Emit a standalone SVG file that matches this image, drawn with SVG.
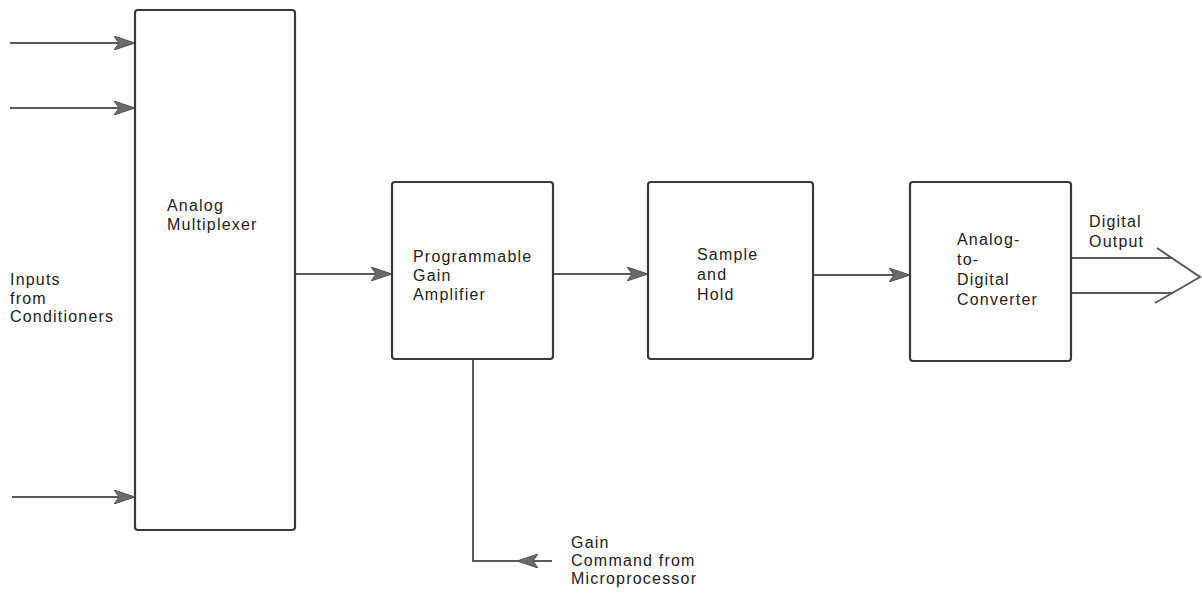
<svg xmlns="http://www.w3.org/2000/svg" width="1202" height="594" viewBox="0 0 1202 594">
<defs>
<marker id="ah" markerWidth="22" markerHeight="14" refX="21" refY="7" orient="auto" markerUnits="userSpaceOnUse">
<path d="M0,0 L21,7 L0,14 L5,7 Z" fill="#6a6a6a" stroke="#555" stroke-width="1"/>
</marker>
<style>
.box{fill:none;stroke:#3a3a3a;stroke-width:2.2}
.ln{fill:none;stroke:#5a5a5a;stroke-width:2}
text{font-family:"Liberation Sans",Arial,sans-serif;font-size:16px;letter-spacing:1.2px;fill:#222}
</style>
</defs>
<rect width="1202" height="594" fill="#fff"/>
<g id="connectors">
<line class="ln" x1="10" y1="43" x2="135" y2="43" marker-end="url(#ah)"/>
<line class="ln" x1="10" y1="108" x2="135" y2="108" marker-end="url(#ah)"/>
<line class="ln" x1="12" y1="497" x2="135" y2="497" marker-end="url(#ah)"/>
<line class="ln" x1="295" y1="274" x2="392" y2="274" marker-end="url(#ah)"/>
<line class="ln" x1="553" y1="274" x2="648" y2="274" marker-end="url(#ah)"/>
<line class="ln" x1="813" y1="275" x2="910" y2="275" marker-end="url(#ah)"/>
<line class="ln" x1="1071" y1="258" x2="1172" y2="258"/>
<line class="ln" x1="1071" y1="293" x2="1173" y2="293"/>
<polyline class="ln" points="1157,248 1200,277 1155,303"/>
<line class="ln" x1="552" y1="561" x2="517" y2="561" marker-end="url(#ah)"/>
<polyline class="ln" points="518,561 473,561 473,359"/>
</g>
<g id="mux">
<rect class="box" x="135" y="10" width="160" height="520" rx="3"/>
<text x="167" y="211">Analog</text>
<text x="167" y="230">Multiplexer</text>
</g>
<g id="pga">
<rect class="box" x="392" y="182" width="161" height="177" rx="3"/>
<text x="413" y="262">Programmable</text>
<text x="413" y="281">Gain</text>
<text x="413" y="300">Amplifier</text>
</g>
<g id="sh">
<rect class="box" x="648" y="182" width="165" height="177" rx="3"/>
<text x="697" y="260">Sample</text>
<text x="697" y="280">and</text>
<text x="697" y="300">Hold</text>
</g>
<g id="adc">
<rect class="box" x="910" y="182" width="161" height="179" rx="3"/>
<text x="957" y="245">Analog-</text>
<text x="957" y="265">to-</text>
<text x="957" y="285">Digital</text>
<text x="957" y="305">Converter</text>
</g>
<g id="inputs-label">
<text x="10" y="285">Inputs</text>
<text x="10" y="304">from</text>
<text x="10" y="322">Conditioners</text>
</g>
<g id="output-label">
<text x="1089" y="227">Digital</text>
<text x="1089" y="247">Output</text>
</g>
<g id="gain-label">
<text x="571" y="548">Gain</text>
<text x="571" y="566">Command from</text>
<text x="571" y="584">Microprocessor</text>
</g>
</svg>
